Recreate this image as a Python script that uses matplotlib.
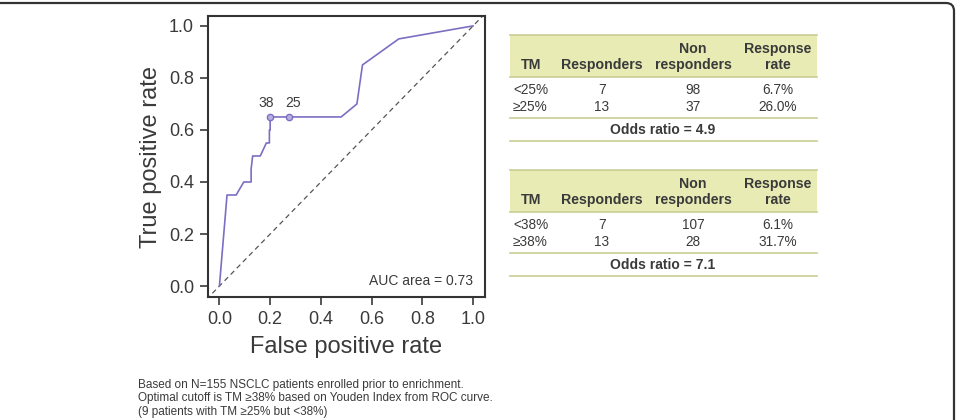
import matplotlib
matplotlib.use("Agg")
import matplotlib.pyplot as plt
from matplotlib.patches import Rectangle
from matplotlib.path import Path
from matplotlib.patches import PathPatch

plt.rcParams["font.family"] = ["Liberation Sans", "DejaVu Sans"]

# ROC curve
fpr = [0.0, 0.030, 0.066, 0.096, 0.125, 0.125, 0.131, 0.161, 0.185, 0.197, 0.197, 0.200, 0.200,
       0.273, 0.480, 0.542, 0.564, 0.707, 1.0]
tpr = [0.0, 0.35, 0.35, 0.40, 0.40, 0.45, 0.50, 0.50, 0.55, 0.55, 0.60, 0.60, 0.65,
       0.65, 0.65, 0.70, 0.85, 0.95, 1.0]
cut_labels = ["38", "25"]
cut_fpr = [0.200, 0.273]
cut_tpr = [0.65, 0.65]
auc_text = "AUC area = 0.73"

# tables
header = ["TM", "Responders", "Non\nresponders", "Response\nrate"]
table1_rows = [["<25%", "7", "98", "6.7%"], ["≥25%", "13", "37", "26.0%"]]
table1_odds = "Odds ratio = 4.9"
table2_rows = [["<38%", "7", "107", "6.1%"], ["≥38%", "13", "28", "31.7%"]]
table2_odds = "Odds ratio = 7.1"

caption = ["Based on N=155 NSCLC patients enrolled prior to enrichment.",
           "Optimal cutoff is TM ≥38% based on Youden Index from ROC curve.",
           "(9 patients with TM ≥25% but <38%)"]

W, H = 957, 420
fig = plt.figure(figsize=(W / 100, H / 100), dpi=100)

# background layer in pixel coordinates
bg = fig.add_axes([0, 0, 1, 1])
bg.set_xlim(0, W)
bg.set_ylim(H, 0)
bg.axis("off")

# rounded frame at top
r = 8
verts = [(-5, 3), (W - 3 - r, 3), (W - 3, 3), (W - 3, 3 + r), (W - 3, H + 10)]
codes = [Path.MOVETO, Path.LINETO, Path.CURVE3, Path.CURVE3, Path.LINETO]
bg.add_patch(PathPatch(Path(verts, codes), fill=False, lw=1.6, ec="#333333"))

line_c = "#c9cd92"
fill_c = "#e8ebb4"
txt_c = "#3a3a3a"
col_x = [513, 602, 693, 778]


def draw_table(top, rows, odds):
    hb = top + 42
    bg.add_patch(Rectangle((510, top), 307, hb - top, fc=fill_c, ec="none"))
    bg.plot([510, 817], [top, top], color=line_c, lw=1.2)
    bg.plot([510, 817], [hb, hb], color=line_c, lw=1.2)
    for i, h in enumerate(header):
        ha = "left" if i == 0 else "center"
        x = 521 if i == 0 else col_x[i]
        bg.text(x, hb - 5, h, ha=ha, va="bottom", fontsize=10.2, fontweight="bold",
                color=txt_c, linespacing=1.2)
    for j, row in enumerate(rows):
        y = hb + 13 + j * 17
        for i, v in enumerate(row):
            ha = "left" if i == 0 else "center"
            bg.text(col_x[i], y, v, ha=ha, va="center", fontsize=9.8, color=txt_c)
    ly = hb + 41
    bg.plot([510, 817], [ly, ly], color=line_c, lw=1.2)
    bg.text(663, ly + 12, odds, ha="center", va="center", fontsize=10,
            fontweight="bold", color=txt_c)
    bg.plot([510, 817], [ly + 23, ly + 23], color=line_c, lw=1.2)


draw_table(35, table1_rows, table1_odds)
draw_table(170, table2_rows, table2_odds)

for k, s in enumerate(caption):
    bg.text(138, 385 + k * 13.5, s, ha="left", va="center", fontsize=8.5, color=txt_c)

# ROC axes
ax = fig.add_axes([208 / W, 1 - 297 / H, 277 / W, 281 / H])
ax.plot([-0.1, 1.1], [-0.1, 1.1], ls=(0, (4, 3)), color="#555555", lw=0.9)
ax.plot(fpr, tpr, color="#7b6fc2", lw=1.2)
ax.plot(cut_fpr, cut_tpr, ls="none", marker="o", ms=4.5, mfc="#b9b0e0", mec="#7b6fc2", mew=1.0)
ax.text(cut_fpr[0] - 0.015, cut_tpr[0] + 0.025, cut_labels[0], ha="center", va="bottom",
        fontsize=10, color=txt_c)
ax.text(cut_fpr[1] + 0.017, cut_tpr[1] + 0.025, cut_labels[1], ha="center", va="bottom",
        fontsize=10, color=txt_c)
ax.text(1.0, 0.02, auc_text, ha="right", va="center", fontsize=10, color=txt_c)

ax.set_xlim(-0.045, 1.047)
ax.set_ylim(-0.042, 1.038)
ticks = [0.0, 0.2, 0.4, 0.6, 0.8, 1.0]
ax.set_xticks(ticks)
ax.set_yticks(ticks)
ax.set_xticklabels([f"{t:.1f}" for t in ticks])
ax.set_yticklabels([f"{t:.1f}" for t in ticks])
ax.tick_params(labelsize=13, length=6, width=1.2, colors=txt_c, pad=4)
for s in ax.spines.values():
    s.set_linewidth(1.5)
    s.set_color("#333333")
ax.set_xlabel("False positive rate", fontsize=17, color=txt_c, labelpad=6)
ax.set_ylabel("True positive rate", fontsize=17, color=txt_c, labelpad=5)

fig.savefig("out.png", dpi=100)
